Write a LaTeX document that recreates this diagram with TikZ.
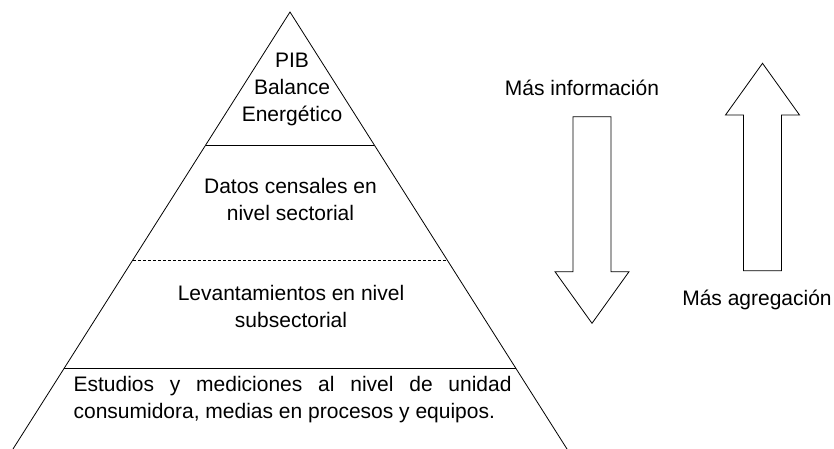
\documentclass[tikz,border=0pt]{standalone}
\usepackage{fontspec}
\setmainfont{Liberation Sans}
\usetikzlibrary{calc}
\begin{document}
\begin{tikzpicture}[x=1pt,y=-1pt,
  line width=0.8pt,
  lbl/.style={inner sep=0pt, font=\fontsize{21}{27}\selectfont, align=center},
  blockarrow/.style={draw, line width=0.8pt, fill=white, line join=miter}]
\useasboundingbox (0,0) rectangle (834,449);
% pyramid
\coordinate (apex) at (290,12);
\coordinate (bl) at (13,449);
\coordinate (br) at (567,449);
\draw (bl) -- (apex) -- (br);
\coordinate (l1) at ($(apex)!0.3043!(bl)$);
\coordinate (r1) at ($(apex)!0.3043!(br)$);
\coordinate (l2) at ($(apex)!0.5675!(bl)$);
\coordinate (r2) at ($(apex)!0.5675!(br)$);
\coordinate (l3) at ($(apex)!0.8146!(bl)$);
\coordinate (r3) at ($(apex)!0.8146!(br)$);
\draw (l1) -- (r1);
\draw[dash pattern=on 3pt off 2pt, line width=0.6pt] (l2) -- (r2);
\draw (l3) -- (r3);
% labels
\node[lbl] (pib) at (292,89) {PIB\\Balance\\Energético};
\node[lbl] (censo) at (290.5,199.5) {Datos censales en\\nivel sectorial};
\node[lbl] (lev) at (291,306) {Levantamientos en nivel\\subsectorial};
\node[lbl, align=left] (est) at (292.6,399.5) {\makebox[438pt][s]{Estudios y mediciones al nivel de unidad}\\consumidora, medias en procesos y equipos.};
% arrows
\draw[blockarrow] (573,116.7) -- (611,116.7) -- (611,271.7) -- (629,271.7) -- (592,323.3)
  -- (555,271.7) -- (573,271.7) -- cycle;
\draw[blockarrow] (743.5,270.7) -- (781.5,270.7) -- (781.5,115) -- (799.5,115) -- (762.5,63.3)
  -- (725.5,115) -- (743.5,115) -- cycle;
\node[lbl] (info) at (582,88) {Más información};
\node[lbl] (agr) at (757,300) {Más agregación};
\end{tikzpicture}
\end{document}
